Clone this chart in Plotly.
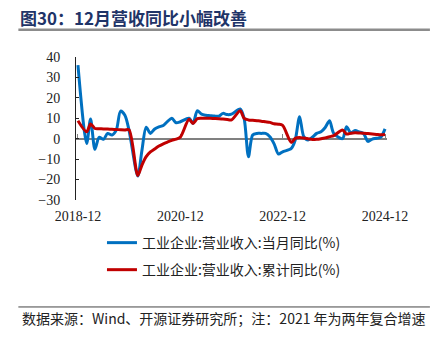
import plotly.graph_objects as go

# ---------------- data ----------------
months = (["2018-12"]
          + [f"2019-{m:02d}" for m in range(2, 13)]
          + [f"2020-{m:02d}" for m in range(2, 13)]
          + [f"2021-{m:02d}" for m in range(2, 13)]
          + [f"2022-{m:02d}" for m in range(2, 13)]
          + [f"2023-{m:02d}" for m in range(2, 13)]
          + [f"2024-{m:02d}" for m in range(2, 13)])

monthly_yoy = [36.0,
               -2.3, 9.7, -5.2, 0.7, -0.3, 2.6, 1.8, 4.3, 13.5, 11.5, 4.0,
               -18.3, -6.0, 5.6, 2.6, 4.8, 5.8, 6.5, 8.5, 10.0, 7.8, 8.3,
               10.0, 7.5, 13.7, 12.0, 11.5, 11.3, 11.1, 11.0, 12.4, 11.8, 12.0,
               14.6, 10.0, -8.8, 1.8, 2.6, 2.6, 2.6, 1.0, -2.5, -7.5, -6.4,
               -4.7, -0.6, 10.8, 1.0, -0.6, 0.7, 2.6, 3.4, 5.5, 8.8, 2.6,
               0.0, 5.9, 2.8, 4.0, 3.3, 2.5, -1.3, -0.2, 0.2, 0.8, 4.8]

cum_yoy = [8.8,
           3.4, 7.2, 5.0, 4.9, 4.8, 4.7, 4.6, 4.5, 4.4, 4.3, 4.3,
           -18.0, -13.0, -8.8, -6.5, -5.0, -3.6, -2.5, -1.6, -0.8, -0.2, 0.8,
           9.5, 7.5, 9.8, 10.0, 10.0, 10.0, 9.9, 9.8, 9.6, 9.4, 9.2,
           13.7, 10.0, 9.2, 9.0, 8.8, 8.6, 8.3, 8.0, 7.3, 7.1, 6.5,
           -1.8, 0.2, 0.6, 0.3, 0.0, -0.4, -0.3, 0.0, 0.4, 1.0, 1.5,
           4.3, 2.3, 2.7, 2.9, 2.8, 2.7, 2.5, 2.3, 2.1, 1.9, 2.1]

series_names = ["工业企业:营业收入:当月同比(%)", "工业企业:营业收入:累计同比(%)"]
title_text = "图30：12月营收同比小幅改善"
source_text = "数据来源：Wind、开源证券研究所；注：2021 年为两年复合增速"
y_ticks = [-30, -20, -10, 0, 10, 20, 30, 40]

# ---------------- figure ----------------
CJK = "Noto Sans CJK SC"
SERIF = "Liberation Serif"

fig = go.Figure()
fig.add_trace(go.Scatter(x=months, y=monthly_yoy, mode="lines", name=series_names[0],
                         line=dict(color="#0070C0", width=3, shape="spline", smoothing=0.8),
                         legend="legend"))
fig.add_trace(go.Scatter(x=months, y=cum_yoy, mode="lines", name=series_names[1],
                         line=dict(color="#C00000", width=3, shape="spline", smoothing=0.8),
                         legend="legend2"))
# dummy trace for the label axis
fig.add_trace(go.Scatter(x=[months[0], months[-1]], y=[None, None], xaxis="x2",
                         showlegend=False, hoverinfo="skip", mode="lines"))

x_range = ["2018-11-17", "2024-12-15"]

fig.update_layout(
    width=435, height=348,
    margin=dict(l=75.7, r=48, t=57.3, b=148),
    paper_bgcolor="white", plot_bgcolor="white",
    showlegend=True,
    title=dict(text=title_text, xref="container", yref="container",
               x=20 / 435, xanchor="left", y=1 - 19 / 348, yanchor="middle",
               font=dict(family=CJK, size=17, color="#1F3468", weight="bold")),
    xaxis=dict(type="date", range=x_range, anchor="free", position=3 / 7,
               showline=True, linecolor="#808080", linewidth=1.5,
               ticks="inside", ticklen=4, tickcolor="#808080", tickwidth=1,
               tick0="2018-12-01", dtick="M24", showticklabels=False,
               showgrid=False, zeroline=False, layer="below traces"),
    xaxis2=dict(type="date", overlaying="x", matches="x", anchor="y", side="bottom",
                range=x_range, showline=False, ticks="", tick0="2018-12-01", dtick="M24",
                tickformat="%Y-%m", showgrid=False, zeroline=False,
                tickfont=dict(family=SERIF, size=14, color="#222222"),
                ticklabelstandoff=6),
    yaxis=dict(range=[-30, 40], domain=[0, 1], tickvals=y_ticks,
               showline=True, linecolor="#222222", linewidth=1,
               ticks="inside", ticklen=3, tickcolor="#222222",
               showgrid=False, zeroline=False,
               tickfont=dict(family=SERIF, size=14, color="#222222"),
               ticklabelstandoff=12),
    legend=dict(x=0.0835, y=-0.301, xanchor="left", yanchor="middle",
                bgcolor="rgba(0,0,0,0)", borderwidth=0,
                font=dict(family=CJK, size=14, color="#222222")),
    legend2=dict(x=0.0835, y=-0.49, xanchor="left", yanchor="middle",
                 bgcolor="rgba(0,0,0,0)", borderwidth=0,
                 font=dict(family=CJK, size=14, color="#222222")),
    shapes=[
        dict(type="line", xref="paper", yref="paper", x0=-0.1853, x1=1.138,
             y0=1.19, y1=1.19, line=dict(color="#8C8C8C", width=2.5)),
        dict(type="line", xref="paper", yref="paper", x0=-0.1853, x1=1.138,
             y0=-0.748, y1=-0.748, line=dict(color="#444444", width=1)),
    ],
    annotations=[
        dict(text=source_text, xref="paper", yref="paper", x=-0.179, y=-0.827,
             xanchor="left", yanchor="middle", showarrow=False,
             font=dict(family=CJK, size=14, color="#222222")),
    ],
)

fig.write_html("out.html")
